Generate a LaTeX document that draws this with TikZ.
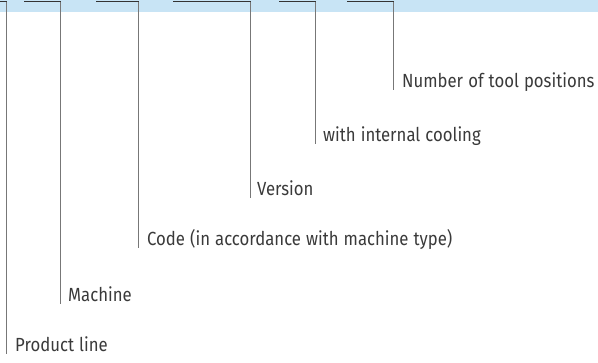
\documentclass[tikz,border=0pt]{standalone}
\usepackage{fontspec}
\setmainfont{Fira Sans}[FakeStretch=0.88,WordSpace=1.15]
\definecolor{band}{HTML}{C8E4F5}
\definecolor{txt}{HTML}{3A3A3A}
\definecolor{dark}{HTML}{333333}
\definecolor{vgray}{HTML}{777777}
\begin{document}
\begin{tikzpicture}[x=1pt,y=-1pt,
  lab/.style={anchor=base west, inner sep=0pt, text=txt, font=\fontsize{19}{21}\selectfont},
  hline/.style={draw=dark, line width=1pt},
  vline/.style={draw=vgray, line width=1pt}]
\useasboundingbox (0,0) rectangle (598,363);
\fill[band] (0,0) rectangle (598,12);
% labels
\node[lab] (n6) at (402,88) {Number of tool positions};
\node[lab] (n5) at (323,142) {with internal cooling};
\node[lab] (n4) at (257,196) {Version};
\node[lab] (n3) at (147,246) {Code (in accordance with machine type)};
\node[lab] (n2) at (68,302) {Machine};
\node[lab] (n1) at (15,352) {Product line};
% line start and corner points
\coordinate (s1) at (0,1.5);   \coordinate (c1) at (6,1.5);
\coordinate (s2) at (24,1.5);  \coordinate (c2) at (60,1.5);
\coordinate (s3) at (96,1.5);  \coordinate (c3) at (138,1.5);
\coordinate (s4) at (173,1.5); \coordinate (c4) at (250,1.5);
\coordinate (s5) at (279,1.5); \coordinate (c5) at (315,1.5);
\coordinate (s6) at (347,1.5); \coordinate (c6) at (393,1.5);
\foreach \i in {1,...,6}{
  \draw[vline] (c\i) -- ([yshift=-2pt]c\i |- n\i.base);
  \draw[hline] (s\i) -- ([xshift=0.5pt]c\i);
}
\end{tikzpicture}
\end{document}
